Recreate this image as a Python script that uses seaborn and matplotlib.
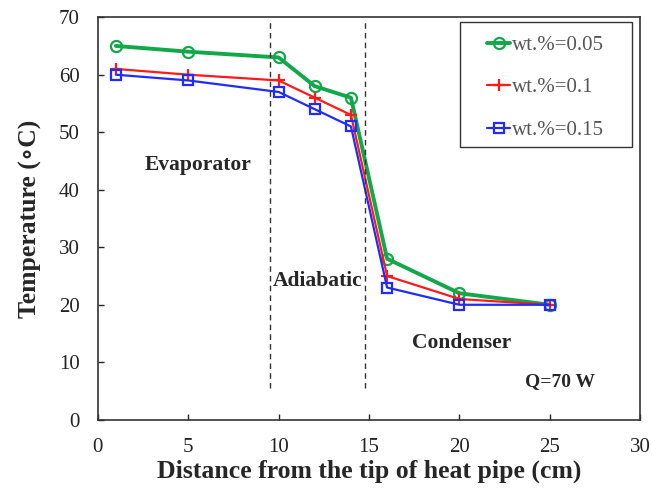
import numpy as np
import pandas as pd
import matplotlib
matplotlib.use("Agg")
import matplotlib.pyplot as plt
import seaborn as sns
from matplotlib.patches import Rectangle

# distance from tip (cm)
distance = [1, 5, 10, 12, 14, 16, 20, 25]
temp_005 = [65, 64, 63, 58, 56, 28, 22, 20]
temp_01 = [61, 60, 59, 56, 53, 25, 21, 20]
temp_015 = [60, 59, 57, 54, 51, 23, 20, 20]
series_labels = ["wt.%=0.05", "wt.%=0.1", "wt.%=0.15"]
section_bounds = [9.5, 14.8]

sns.set_theme(style="white")
plt.rcParams['font.family'] = ['Liberation Serif', 'DejaVu Serif']

df = pd.DataFrame({
    "Distance": distance * 3,
    "Temperature": temp_005 + temp_01 + temp_015,
    "Series": np.repeat(series_labels, len(distance)),
})

fig, ax = plt.subplots(figsize=(6.52, 4.91), dpi=100)
fig.subplots_adjust(left=0.150, right=0.982, top=0.965, bottom=0.145)

styles = {
    "wt.%=0.05": dict(color="#12a84a", marker="o", lw=2.8, ms=8, mfc="none", mec="#12a84a", mew=1.6),
    "wt.%=0.1": dict(color="#ff1a1a", marker="+", lw=1.6, ms=9, mec="#ff1a1a", mew=1.6),
    "wt.%=0.15": dict(color="#1f2bff", marker="s", lw=1.6, ms=7.5, mfc="none", mec="#1f2bff", mew=1.6),
}
for lab in series_labels:
    sub = df[df["Series"] == lab]
    sns.lineplot(data=sub, x="Distance", y="Temperature", ax=ax, label=lab,
                 **styles[lab])

for xb in section_bounds:
    ax.plot([xb, xb], [5.5, 69.5], color="#333333", lw=1.0, ls=(0, (4, 3)))

ax.set_xlim(0, 30)
ax.set_ylim(0, 70)
ax.set_xticks(range(0, 31, 5))
ax.set_yticks(range(0, 71, 10))
ax.tick_params(axis="both", direction="in", length=4, width=1, labelsize=15,
               labelcolor="#222222", bottom=True, left=True, top=False, right=False)
ax.tick_params(axis="x", pad=13)
ax.tick_params(axis="y", pad=13)
for s in ax.spines.values():
    s.set_color("#333333")
    s.set_linewidth(1.2)

ax.set_xlabel("Distance from the tip of heat pipe (cm)", fontsize=18.5, fontweight="bold", labelpad=2)
ax.set_ylabel("Temperature (∘C)", fontsize=18.5, fontweight="bold", labelpad=12)

ax.text(2.6, 44.3, "Evaporator", fontsize=15.5, fontweight="bold", va="center")
ax.text(9.7, 24.1, "Adiabatic", fontsize=15.5, fontweight="bold", va="center")
ax.text(17.4, 13.4, "Condenser", fontsize=15.5, fontweight="bold", va="center")
ax.text(23.6, 6.6, "Q=70 W", fontsize=14, fontweight="bold", va="center")

# legend box drawn separately so the padding can be wider than tall
ax.add_patch(Rectangle((0.668, 0.677), 0.317, 0.311, transform=ax.transAxes,
                       fill=False, edgecolor="#333333", lw=1.0, zorder=5))
leg = ax.legend(loc="upper left", bbox_to_anchor=(0.718, 0.955), fontsize=15,
                frameon=False, handlelength=1.1, handletextpad=0.1,
                labelspacing=1.1, borderpad=0, borderaxespad=0,
                labelcolor="#555555")

fig.savefig("out.png", dpi=100)
